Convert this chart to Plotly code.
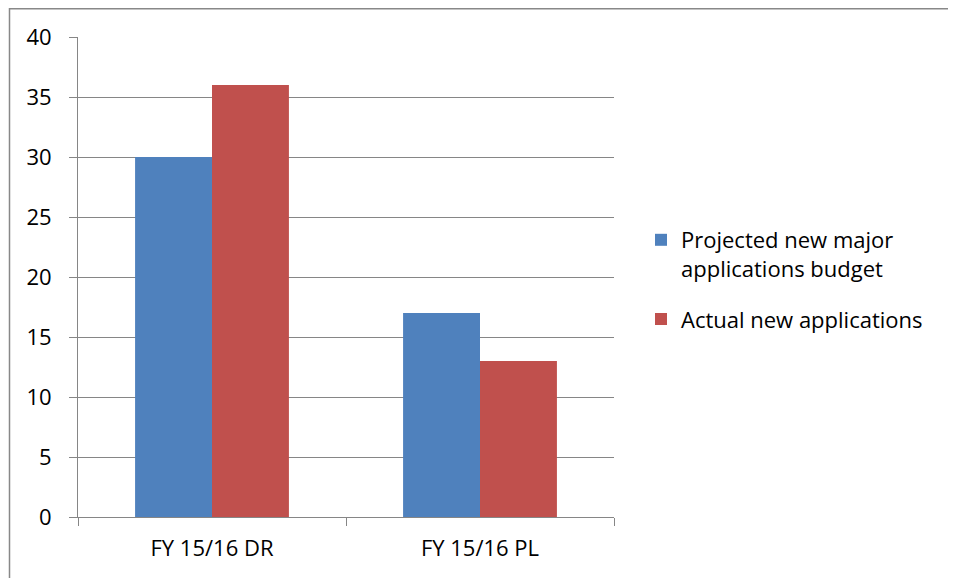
import plotly.graph_objects as go

categories = ["FY 15/16 DR", "FY 15/16 PL"]
series_names = ["Projected new major<br>applications budget", "Actual new applications"]
projected = [30, 17]
actual = [36, 13]
y_ticks = [0, 5, 10, 15, 20, 25, 30, 35, 40]

# the page body adds an 8px offset, so the figure is sized to fit the window
W, H = 948, 571
L, R, T, B = 70, 606, 29, 509

fig = go.Figure()
fig.add_trace(go.Bar(x=categories, y=projected, name=series_names[0], legendgroup="a",
                     marker=dict(color="#4F81BD", line=dict(width=0))))
fig.add_trace(go.Bar(x=categories, y=actual, name=series_names[1], legendgroup="b",
                     marker=dict(color="#C0504D", line=dict(width=0))))

pw, ph = R - L, B - T
xl = (1.5 - L) / pw
xr = (W - 1 - L) / pw
yt = (B - 0.75) / ph
yb = (B - H + 1) / ph
# outer chart border: left and top edges as one open path
fig.add_shape(type="path", xref="paper", yref="paper",
              path=f"M {xl},{yb} L {xl},{yt} L {xr},{yt}",
              line=dict(color="#888888", width=1.5), fillcolor="rgba(0,0,0,0)")

font = "Open Sans, sans-serif"
fig.update_layout(
    width=W, height=H,
    margin=dict(l=L, r=W - R, t=T, b=H - B, pad=0),
    paper_bgcolor="white", plot_bgcolor="white",
    barmode="group", bargap=0.426, bargroupgap=0,
    font=dict(family=font, color="black", size=22),
    showlegend=True,
    legend=dict(x=(633 - L) / pw, xanchor="left", y=(B - 211) / ph, yanchor="top",
                font=dict(size=22, family=font), tracegroupgap=19, valign="top",
                bgcolor="rgba(0,0,0,0)"),
    xaxis=dict(showline=True, linecolor="#868686", linewidth=1,
               ticks="outside", tickson="boundaries", ticklen=8, tickcolor="#868686",
               tickfont=dict(size=22), showgrid=False, ticklabelstandoff=12),
    yaxis=dict(range=[0, 40], tickvals=y_ticks, showline=True, linecolor="#868686",
               linewidth=1, ticks="outside", ticklen=8, tickcolor="#868686",
               showgrid=True, gridcolor="#868686", gridwidth=1,
               tickfont=dict(size=22), zeroline=False, ticklabelstandoff=13),
)

fig.write_html("out.html")
